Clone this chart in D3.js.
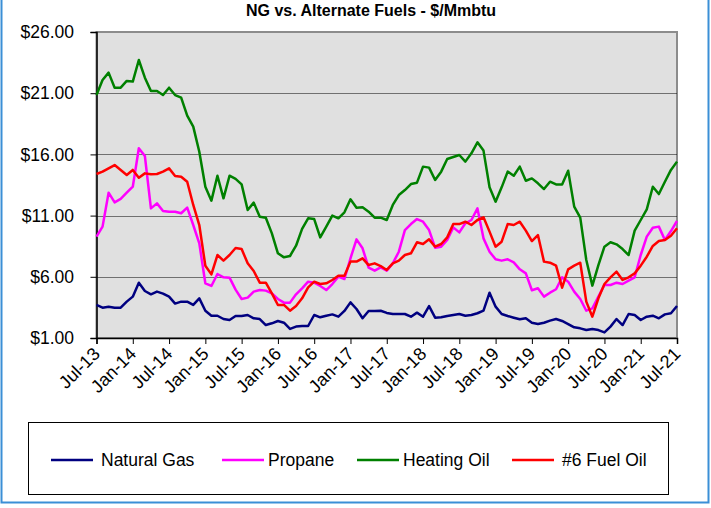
<!DOCTYPE html>
<html>
<head>
<meta charset="utf-8">
<script src="https://cdn.jsdelivr.net/npm/d3@7"></script>
<style>
  body { margin: 0; background: #fff; }
  svg { display: block; font-family: "Liberation Sans", Arial, sans-serif; }
</style>
</head>
<body>
<div id="chart"></div>
<script>
// monthly, Jul-13 .. Jul-21
var tickLabels = ["Jul-13","Jan-14","Jul-14","Jan-15","Jul-15","Jan-16","Jul-16","Jan-17","Jul-17",
  "Jan-18","Jul-18","Jan-19","Jul-19","Jan-20","Jul-20","Jan-21","Jul-21"];

var naturalGas = [3.70,3.48,3.56,3.48,3.48,3.97,4.38,5.52,4.84,4.57,4.79,4.62,4.38,3.81,3.97,3.97,3.70,4.24,3.23,2.82,2.82,2.55,2.47,2.80,
  2.80,2.88,2.61,2.55,2.06,2.20,2.39,2.25,1.74,1.93,1.98,1.98,2.88,2.69,2.82,2.93,2.74,3.21,3.91,3.37,2.61,3.21,3.21,3.23,3.05,
  2.96,2.96,2.96,2.74,3.07,2.74,3.61,2.66,2.69,2.80,2.88,2.96,2.82,2.88,3.02,3.23,4.70,3.56,2.96,2.80,2.66,2.53,2.61,2.25,2.14,
  2.25,2.42,2.55,2.39,2.14,1.87,1.79,1.65,1.74,1.65,1.46,1.93,2.55,2.06,2.96,2.88,2.47,2.74,2.82,2.61,2.93,3.02,3.61];

var propane = [9.28,10.10,12.87,12.08,12.36,12.87,13.36,16.50,15.87,11.59,12.00,11.38,11.32,11.32,11.19,11.65,10.23,8.73,5.47,5.25,6.23,5.96,5.93,4.95,
  4.19,4.30,4.79,4.92,4.87,4.65,4.19,3.89,3.89,4.57,5.06,5.60,5.52,5.25,4.92,5.41,6.01,5.82,7.51,9.06,8.33,6.75,6.50,6.77,6.50,
  7.10,8.05,9.82,10.31,10.72,10.50,9.82,8.38,8.46,9.01,10.04,9.63,10.37,10.64,11.59,9.14,8.05,7.43,7.32,7.43,7.18,6.61,6.28,4.90,
  5.06,4.38,4.70,4.98,5.96,5.60,4.79,4.19,3.23,3.42,4.38,5.33,5.33,5.52,5.41,5.68,5.96,7.78,9.28,10.01,10.10,9.01,9.74,10.56];

var heatingOil = [20.85,22.08,22.68,21.45,21.45,22.00,21.95,23.71,22.27,21.18,21.18,20.85,21.45,20.85,20.64,19.16,18.27,16.22,13.36,12.22,14.26,12.41,14.26,14.00,
  13.55,11.46,12.06,10.91,10.83,9.55,7.92,7.59,7.70,8.54,9.91,10.78,10.72,9.22,10.10,11.00,10.78,11.27,12.33,11.65,11.68,11.32,10.83,10.83,10.64,
  11.87,12.68,13.09,13.58,13.69,15.00,14.92,13.91,14.59,15.62,15.79,15.95,15.41,16.09,16.99,16.31,13.31,12.14,13.31,14.59,14.26,15.00,13.85,
  14.04,13.64,13.17,13.77,13.55,13.55,14.67,11.73,10.83,7.37,5.28,6.96,8.46,8.82,8.65,8.27,7.78,9.77,10.64,11.51,13.36,12.76,13.77,14.73,15.41];

var fuelOil6 = [14.40,14.59,14.86,15.13,14.73,14.32,14.73,14.10,14.45,14.37,14.40,14.59,14.86,14.24,14.18,13.77,11.87,10.23,6.91,6.20,7.78,7.32,7.78,8.35,
  8.27,7.10,6.47,5.52,5.52,4.65,3.70,3.70,3.23,3.61,4.24,5.14,5.60,5.41,5.47,5.74,6.09,6.09,7.24,7.24,7.51,6.96,7.10,6.88,6.56,
  7.10,7.32,7.78,7.92,8.82,8.68,9.06,8.46,8.68,9.22,10.31,10.31,10.50,10.23,10.64,10.86,9.69,8.46,8.87,10.31,10.23,10.50,9.77,
  8.92,9.41,7.24,7.15,6.91,5.11,6.61,6.91,7.15,3.97,2.74,4.24,5.41,5.96,6.42,5.74,5.96,6.28,6.91,7.64,8.52,8.92,9.01,9.36,9.96];

var seriesNames = ["Natural Gas", "Propane", "Heating Oil", "#6 Fuel Oil"];
var seriesColors = ["#000080", "#ff00ff", "#008000", "#ff0000"];
var seriesData = [naturalGas, propane, heatingOil, fuelOil6];
var yTicks = [1, 6, 11, 16, 21, 26];

var W = 711, H = 508;
var plotL = 96.5, plotR = 677, plotT = 32, plotB = 338;

var svg = d3.select("#chart").append("svg")
    .attr("width", W)
    .attr("height", H);

// outer frame
svg.append("rect").attr("x", 0).attr("y", 0).attr("width", W).attr("height", H).attr("fill", "#fff");
svg.append("path")
    .attr("d", "M1.5,0 V502.5 H708.5 V0")
    .attr("fill", "none")
    .attr("stroke", "#3b8fd6")
    .attr("stroke-width", 2);

var x = d3.scaleLinear().domain([0, naturalGas.length - 1]).range([plotL, plotR]);
var y = d3.scaleLinear().domain([1, 26]).range([plotB, plotT]);

// plot area
svg.append("rect")
    .attr("x", plotL).attr("y", plotT)
    .attr("width", plotR - plotL).attr("height", plotB - plotT)
    .attr("fill", "#e0e0e0")
    .attr("stroke", "#8c8c8c")
    .attr("stroke-width", 2);

// gridlines
svg.append("g").selectAll("line")
  .data(yTicks.slice(1, -1))
  .enter().append("line")
    .attr("x1", plotL).attr("x2", plotR)
    .attr("y1", function(d) { return Math.round(y(d)) + 0.5; })
    .attr("y2", function(d) { return Math.round(y(d)) + 0.5; })
    .attr("stroke", "#000")
    .attr("stroke-width", 1)
    .attr("stroke-dasharray", "1,1");

// y axis
var yAxis = d3.axisLeft(y)
    .tickValues(yTicks)
    .tickSize(6)
    .tickFormat(function(d) { return "$" + d.toFixed(2); });
var gy = svg.append("g").attr("transform", "translate(" + plotL + ",0)").call(yAxis);
gy.select(".domain").attr("stroke", "#000").attr("stroke-width", 1.5);
gy.selectAll(".tick line").attr("stroke", "#000");
gy.selectAll(".tick text")
    .attr("font-size", 17.5)
    .attr("font-family", "Liberation Sans, Arial, sans-serif")
    .attr("fill", "#000")
    .attr("x", -22.5);

// x axis
var xTickIdx = tickLabels.map(function(d, i) { return i * 6; });
var xAxis = d3.axisBottom(x)
    .tickValues(xTickIdx)
    .tickSize(6)
    .tickFormat(function(d) { return tickLabels[d / 6]; });
var gx = svg.append("g").attr("transform", "translate(0," + plotB + ")").call(xAxis);
gx.select(".domain").attr("stroke", "#000").attr("stroke-width", 1.5);
gx.selectAll(".tick line").attr("stroke", "#000");
gx.selectAll(".tick text")
    .attr("font-size", 18)
    .attr("font-family", "Liberation Sans, Arial, sans-serif")
    .attr("fill", "#000")
    .attr("text-anchor", "end")
    .attr("y", 0).attr("dy", 0)
    .attr("transform", "translate(4,17) rotate(-45)");

// lines
var line = d3.line()
    .x(function(d, i) { return x(i); })
    .y(function(d) { return y(d); });

svg.append("g").selectAll("path")
  .data(seriesData)
  .enter().append("path")
    .attr("d", line)
    .attr("fill", "none")
    .attr("stroke", function(d, i) { return seriesColors[i]; })
    .attr("stroke-width", 2.5)
    .attr("stroke-linejoin", "round");

// title
svg.append("text")
    .attr("x", 371).attr("y", 16)
    .attr("text-anchor", "middle")
    .attr("font-size", 16)
    .attr("font-weight", "bold")
    .text("NG vs. Alternate Fuels - $/Mmbtu");

// legend
svg.append("rect")
    .attr("x", 28.5).attr("y", 422.5)
    .attr("width", 640).attr("height", 72)
    .attr("fill", "#fff")
    .attr("stroke", "#000")
    .attr("stroke-width", 1);

var legendX = [51, 222, 357, 512];
var legend = svg.append("g").selectAll("g")
  .data(seriesNames)
  .enter().append("g")
    .attr("transform", function(d, i) { return "translate(" + legendX[i] + ",460)"; });
legend.append("line")
    .attr("x1", 0).attr("x2", 42)
    .attr("stroke", function(d, i) { return seriesColors[i]; })
    .attr("stroke-width", 2.5);
legend.append("text")
    .attr("x", function(d, i) { return i === 0 || i === 3 ? 50 : 46; })
    .attr("dy", "0.35em")
    .attr("font-size", 17.5)
    .text(function(d) { return d; });
</script>
</body>
</html>
